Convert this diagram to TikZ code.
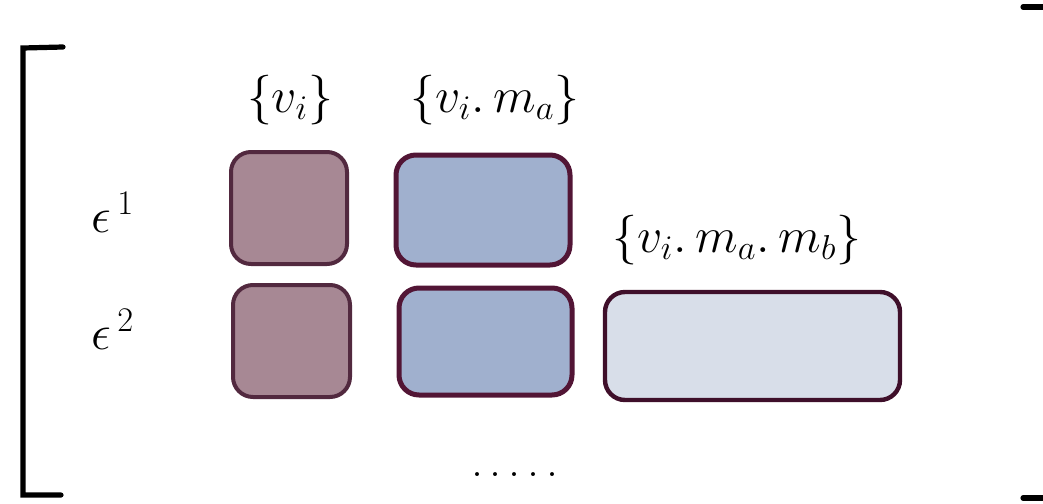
\documentclass[tikz,border=0pt]{standalone}
\usepackage{amsmath}
\definecolor{mauvefill}{HTML}{A78894}
\definecolor{mauveline}{HTML}{52293F}
\definecolor{bluefill}{HTML}{A0B0CE}
\definecolor{blueline}{HTML}{521535}
\definecolor{palefill}{HTML}{D8DEE9}
\definecolor{paleline}{HTML}{3F0F2A}
\tikzset{
  base/.style={rounded corners=10pt, inner sep=0pt},
  mauvebox/.style={base, draw=mauveline, fill=mauvefill, line width=2pt},
  bluebox/.style={base, draw=blueline, fill=bluefill, line width=2.5pt},
  palebox/.style={base, draw=paleline, fill=palefill, line width=2.2pt},
  lbl/.style={inner sep=0pt, font=\fontsize{24}{28}\selectfont},
  brk/.style={line width=2.6pt, line cap=round}
}
\begin{document}
\begin{tikzpicture}[x=0.5pt, y=-0.5pt]
\useasboundingbox (0,0) rectangle (1043,503);
% brackets
\coordinate (lt) at (63,47);
\coordinate (ltc) at (23,48);
\coordinate (lbc) at (23,495);
\coordinate (lb) at (61,495);
\draw[brk] (lt) -- (ltc) -- (lbc) -- (lb);
\coordinate (rt1) at (1023,7);
\coordinate (rt2) at (1050,7);
\coordinate (rb1) at (1023,498);
\coordinate (rb2) at (1050,498);
\draw[brk] (rt1) -- (rt2);
\draw[brk] (rb1) -- (rb2);
% boxes
\node[mauvebox, minimum width=58pt, minimum height=56pt] (b11) at (289,208) {};
\node[bluebox, minimum width=87pt, minimum height=55pt] (b12) at (483,210) {};
\node[mauvebox, minimum width=58.5pt, minimum height=56pt] (b21) at (291.5,341) {};
\node[bluebox, minimum width=86.5pt, minimum height=53.5pt] (b22) at (485.5,341.5) {};
\node[palebox, minimum width=147.5pt, minimum height=54pt] (b23) at (752.5,346) {};
% labels
\node[lbl] (e1) at (113,212) {$\epsilon^{\,1}$};
\node[lbl] (e2) at (113,329) {$\epsilon^{\,2}$};
\node[lbl] (h1) at (290,100) {$\{v_i\}$};
\node[lbl] (h2) at (495,100) {$\{v_i.\,m_a\}$};
\node[lbl] (h3) at (737,240) {$\{v_i.\,m_a.\,m_b\}$};
\node[lbl, anchor=base] (dots) at (515,476) {.\kern3.5pt.\kern3.5pt.\kern3.5pt.\kern3.5pt.};
\end{tikzpicture}
\end{document}
